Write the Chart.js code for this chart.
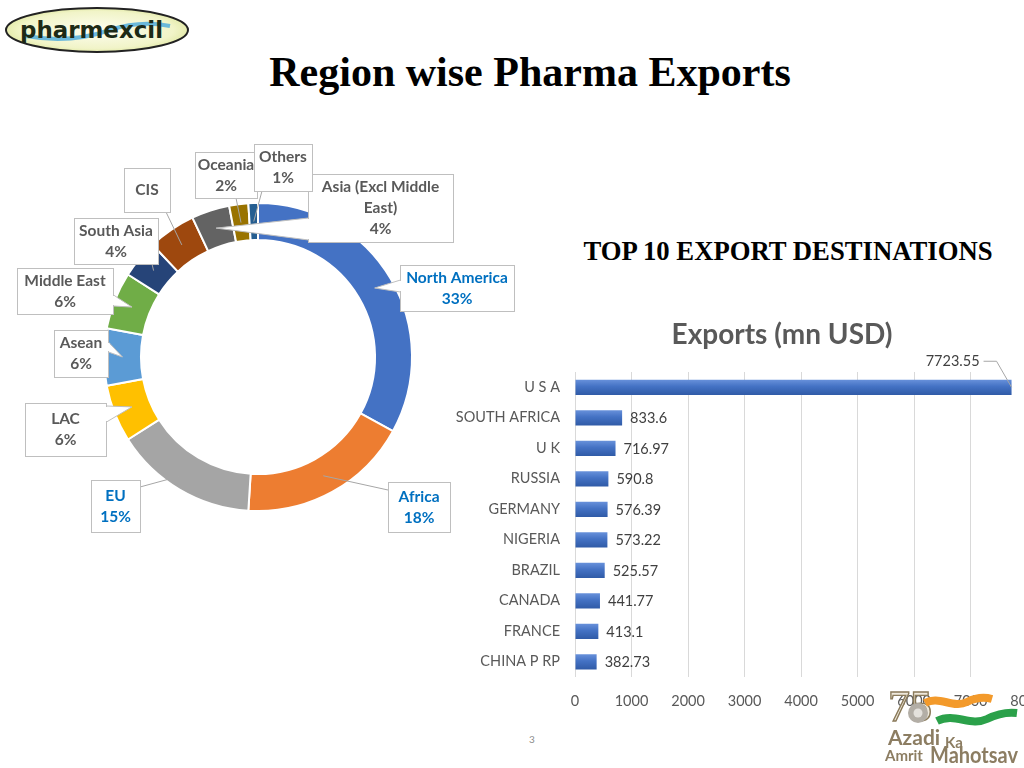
<!DOCTYPE html>
<html>
<head>
<meta charset="utf-8">
<title>Region wise Pharma Exports</title>
<script src="https://cdn.jsdelivr.net/npm/chart.js@4.4.1/dist/chart.umd.min.js"></script>
<style>
  html, body { margin: 0; padding: 0; }
  body { width: 1024px; height: 768px; overflow: hidden; position: relative; background: #fff; font-family: Lato, "Open Sans", sans-serif; }
  .abs { position: absolute; }
  #title { left: 0; top: 47px; width: 1060px; text-align: center; font: bold 42px/50px "Liberation Serif", serif; color: #000; }
  #subtitle { left: 580px; top: 235px; width: 416px; text-align: center; font: bold 26.7px/32px "Liberation Serif", serif; color: #000; white-space: nowrap; }
  #pieWrap { left: 0; top: 130px; }
  #barWrap { left: 440px; top: 315px; }
  #pageNo { left: 529px; top: 733px; font: 10px Lato, sans-serif; color: #8c8c8c; }
  #logo { left: 0; top: 0; }
  #azadi { left: 875px; top: 682px; }
</style>
</head>
<body>
<svg id="logo" class="abs" width="200" height="60">
  <defs>
    <radialGradient id="lg" cx="50%" cy="50%" r="60%">
      <stop offset="0%" stop-color="#fdfdf0"/>
      <stop offset="70%" stop-color="#f1f4c8"/>
      <stop offset="100%" stop-color="#d6e08a"/>
    </radialGradient>
  </defs>
  <ellipse cx="97" cy="30" rx="91" ry="22" fill="url(#lg)" stroke="#222" stroke-width="2"/>
  <path d="M26 36 Q70 44 110 30 Q140 20 170 26" fill="none" stroke="#49a9dc" stroke-width="4" opacity="0.8"/>
  <text x="20" y="38" font-family="DejaVu Sans" font-weight="bold" font-size="23" fill="#1d2a16" textLength="143" lengthAdjust="spacingAndGlyphs">pharmexcil</text>
</svg>

<div id="title" class="abs">Region wise Pharma Exports</div>
<div id="subtitle" class="abs">TOP 10 EXPORT DESTINATIONS</div>

<div id="pieWrap" class="abs"><canvas id="pieChart" width="530" height="420"></canvas></div>
<div id="barWrap" class="abs"><canvas id="barChart" width="620" height="402"></canvas></div>

<div id="pageNo" class="abs">3</div>

<svg id="azadi" class="abs" width="149" height="86">
  <text x="13" y="39" font-family="Liberation Serif" font-size="44" fill="#efe9dc" stroke="#8a7a5a" stroke-width="1.4">75</text>
  <circle cx="43" cy="31" r="10" fill="#b3aea6"/>
  <circle cx="43" cy="31" r="4.5" fill="#e4e1dc"/>
  <path d="M50 21 C64 13 78 27 92 20 C102 15 110 15 117 17" fill="none" stroke="#f39a2b" stroke-width="8"/>
  <path d="M62 39 C80 30 95 45 112 37 C124 31 134 30 142 31" fill="none" stroke="#2ba14a" stroke-width="8"/>
  <text x="13" y="63" font-family="Lato" font-weight="bold" font-size="21" fill="#8c7d62">Azadi</text>
  <text x="70" y="66" font-family="Lato" font-weight="bold" font-size="15" fill="#8c7d62">Ka</text>
  <text x="10" y="79" font-family="Lato" font-weight="bold" font-size="15" fill="#8c7d62">Amrit</text>
  <text x="55" y="81" font-family="Lato" font-weight="bold" font-size="22" fill="#8c7d62" textLength="88" lengthAdjust="spacingAndGlyphs">Mahotsav</text>
</svg>

<script>
// region share of pharma exports (%)
const regions = ["North America", "Africa", "EU", "LAC", "Asean", "Middle East",
  "South Asia", "CIS", "Asia (Excl Middle East)", "Oceania", "Others"];
const shares = [33, 18, 15, 6, 6, 6, 4, 5, 4, 2, 1];
const regionColors = ["#4472C4", "#ED7D31", "#A5A5A5", "#FFC000", "#5B9BD5", "#70AD47",
  "#264478", "#9E480E", "#636363", "#997300", "#255E91"];

// top 10 destinations, mn USD
const countries = ["U S A", "SOUTH AFRICA", "U K", "RUSSIA", "GERMANY", "NIGERIA",
  "BRAZIL", "CANADA", "FRANCE", "CHINA P RP"];
const exportValues = [7723.55, 833.6, 716.97, 590.8, 576.39, 573.22, 525.57, 441.77, 413.1, 382.73];
const xTicks = [0, 1000, 2000, 3000, 4000, 5000, 6000, 7000, 8000];

// callout boxes for the doughnut, canvas coords (canvas sits at page y=130)
const callouts = [
  { i: 0, x: 400, y: 135, w: 114, h: 46, blue: true, wedge: "left", base: [150, 162] },
  { i: 1, x: 388, y: 352, w: 62, h: 50, blue: true, from: [388, 360] },
  { i: 2, x: 91, y: 350, w: 49, h: 52, blue: true, from: [140, 357] },
  { i: 3, x: 25, y: 273, w: 81, h: 53, wedge: "right", base: [276, 292] },
  { i: 4, x: 54, y: 200, w: 54, h: 47, wedge: "right", base: [212, 222] },
  { i: 5, x: 17, y: 138, w: 96, h: 46, wedge: "right", base: [165, 176] },
  { i: 6, x: 74, y: 88, w: 84, h: 46, from: [152, 134] },
  { i: 7, x: 124, y: 38, w: 46, h: 44, from: [166, 82], noPct: true },
  { i: 8, x: 308, y: 44, w: 145, h: 68, wedge: "left", base: [88, 110], lines: ["Asia (Excl Middle", "East)"] },
  { i: 9, x: 195, y: 22, w: 62, h: 46, from: [236, 68] },
  { i: 10, x: 254, y: 14, w: 58, h: 47, from: [262, 61] }
];

const calloutPlugin = {
  id: "callouts",
  afterDraw(chart) {
    const ctx = chart.ctx;
    const arcs = chart.getDatasetMeta(0).data;
    ctx.save();
    callouts.forEach(function (c) {
      const tip = arcs[c.i].getCenterPoint();
      ctx.lineWidth = 1;
      let p1, p2;
      if (c.wedge) {
        const ex = c.wedge === "left" ? c.x : c.x + c.w;
        p1 = [ex, c.base[0]];
        p2 = [ex, c.base[1]];
        ctx.beginPath();
        ctx.moveTo(p1[0], p1[1]);
        ctx.lineTo(tip.x, tip.y);
        ctx.lineTo(p2[0], p2[1]);
        ctx.closePath();
        ctx.fillStyle = "#fff";
        ctx.fill();
      } else {
        ctx.strokeStyle = "#A6A6A6";
        ctx.beginPath();
        ctx.moveTo(c.from[0], c.from[1]);
        ctx.lineTo(tip.x, tip.y);
        ctx.stroke();
      }
      // box
      ctx.fillStyle = "#fff";
      ctx.fillRect(c.x, c.y, c.w, c.h);
      ctx.strokeStyle = "#BFBFBF";
      ctx.strokeRect(c.x + 0.5, c.y + 0.5, c.w, c.h);
      if (c.wedge) {
        ctx.strokeStyle = "#BFBFBF";
        ctx.beginPath();
        ctx.moveTo(p1[0] + 0.5, p1[1]);
        ctx.lineTo(tip.x, tip.y);
        ctx.lineTo(p2[0] + 0.5, p2[1]);
        ctx.stroke();
        ctx.strokeStyle = "#fff";
        ctx.lineWidth = 2;
        ctx.beginPath();
        ctx.moveTo(p1[0] + 0.5, p1[1] + 1);
        ctx.lineTo(p2[0] + 0.5, p2[1] - 1);
        ctx.stroke();
      }
      // text
      const lines = c.lines ? c.lines.slice() : [regions[c.i]];
      if (!c.noPct) lines.push(shares[c.i] + "%");
      ctx.font = "bold 15.5px Lato";
      ctx.fillStyle = c.blue ? "#0070C0" : "#595959";
      ctx.textAlign = "center";
      ctx.textBaseline = "middle";
      const cy = c.y + c.h / 2 - (lines.length - 1) * 10.5;
      lines.forEach(function (t, k) {
        ctx.fillText(t, c.x + c.w / 2, cy + k * 21);
      });
    });
    ctx.restore();
  }
};

new Chart(document.getElementById("pieChart").getContext("2d"), {
  type: "doughnut",
  data: {
    labels: regions,
    datasets: [{
      data: shares,
      backgroundColor: regionColors,
      borderColor: "#ffffff",
      borderWidth: 2
    }]
  },
  options: {
    responsive: false,
    animation: false,
    cutout: "76%",
    layout: { padding: { left: 103, right: 117, top: 72, bottom: 38 } },
    plugins: { legend: { display: false }, tooltip: { enabled: false } }
  },
  plugins: [calloutPlugin]
});

const barLabels = {
  id: "barLabels",
  afterDraw(chart) {
    const ctx = chart.ctx;
    const meta = chart.getDatasetMeta(0);
    const visibleRight = 1024 - 440;
    ctx.save();
    // chart title
    ctx.font = "bold 28px Lato";
    ctx.fillStyle = "#595959";
    ctx.textAlign = "center";
    ctx.textBaseline = "middle";
    ctx.fillText("Exports (mn USD)", 342, 20);

    ctx.font = "14.5px Lato";
    ctx.fillStyle = "#404040";
    meta.data.forEach(function (bar, i) {
      const txt = String(exportValues[i]);
      const w = ctx.measureText(txt).width;
      if (bar.x + 8 + w < visibleRight) {
        ctx.textAlign = "left";
        ctx.fillText(txt, bar.x + 8, bar.y + 1);
      } else {
        const ty = bar.y - 26;
        ctx.textAlign = "right";
        ctx.fillText(txt, bar.x - 32, ty);
        ctx.strokeStyle = "#A6A6A6";
        ctx.lineWidth = 1;
        ctx.beginPath();
        ctx.moveTo(bar.x - 28, ty);
        ctx.lineTo(bar.x - 15, ty);
        ctx.lineTo(bar.x, bar.y);
        ctx.stroke();
      }
    });
    ctx.restore();
  }
};

function barFill(c) {
  const bar = c.chart.getDatasetMeta(0).data[c.dataIndex];
  if (!bar || bar.y == null || isNaN(bar.y)) return "#4472C4";
  const g = c.chart.ctx.createLinearGradient(0, bar.y - 8, 0, bar.y + 8);
  g.addColorStop(0, "#6a93dc");
  g.addColorStop(0.45, "#4472C4");
  g.addColorStop(1, "#2f5aa6");
  return g;
}

const barChart = new Chart(document.getElementById("barChart").getContext("2d"), {
  type: "bar",
  data: {
    labels: countries,
    datasets: [{
      data: exportValues,
      backgroundColor: barFill,
      barPercentage: 0.5,
      categoryPercentage: 1.0
    }]
  },
  options: {
    indexAxis: "y",
    responsive: false,
    animation: false,
    layout: { padding: { left: 0, right: 0, top: 57, bottom: 0 } },
    scales: {
      x: {
        min: 0,
        max: 8000,
        afterBuildTicks(scale) { scale.ticks = xTicks.map(function (v) { return { value: v }; }); },
        afterFit(scale) { scale.height = 40; },
        grid: { color: "#D9D9D9", drawTicks: false },
        border: { display: false },
        ticks: {
          padding: 16, color: "#595959", font: { family: "Lato", size: 14.5 }, autoSkip: false, maxRotation: 0,
          callback: function (v) { return String(v); }
        }
      },
      y: {
        afterFit(scale) { scale.width = 135; },
        grid: { display: false, drawTicks: false },
        border: { display: false },
        ticks: { padding: 15, color: "#595959", font: { family: "Lato", size: 14.5 } }
      }
    },
    plugins: { legend: { display: false }, tooltip: { enabled: false } }
  },
  plugins: [barLabels]
});
barChart.update("none");
</script>
</body>
</html>
